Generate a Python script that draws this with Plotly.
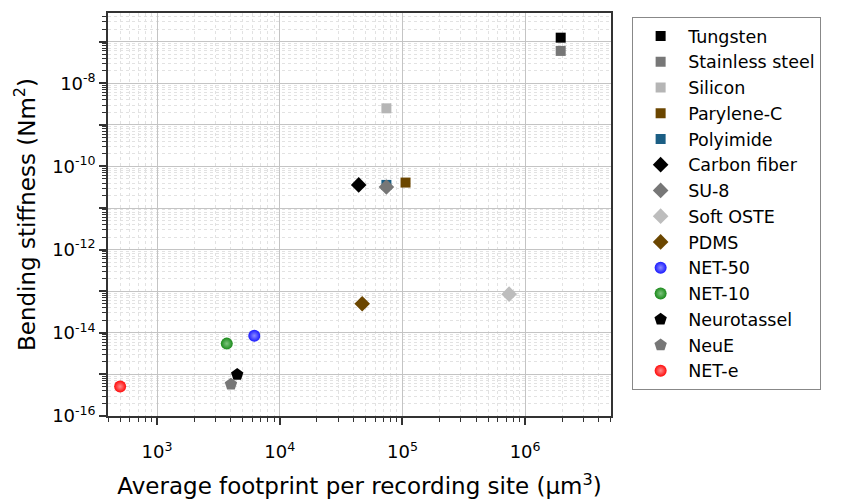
import plotly.graph_objects as go

names = ["Tungsten", "Stainless steel", "Silicon", "Parylene-C", "Polyimide",
         "Carbon fiber", "SU-8", "Soft OSTE", "PDMS", "NET-50", "NET-10",
         "Neurotassel", "NeuE", "NET-e"]
footprint = [1.95e6, 1.95e6, 7.4e4, 1.06e5, 7.4e4, 4.4e4, 7.4e4, 7.4e5, 4.7e4,
             6.2e3, 3.7e3, 4.5e3, 4.0e3, 5.0e2]
stiffness = [1.25e-7, 6.0e-8, 2.5e-9, 4.1e-11, 3.6e-11, 3.6e-11, 3.2e-11, 8.5e-14,
             5.0e-14, 8.5e-15, 5.5e-15, 1.0e-15, 5.8e-16, 5.1e-16]
colors = ["#000000", "#777777", "#b5b5b5", "#6b4600", "#1b5e84", "#000000",
          "#777777", "#bdbdbd", "#6b4600", "#1a1aff", "#1a8a1a", "#000000",
          "#777777", "#ff0a0a"]
highlight = {"NET-50": "#8c8cff", "NET-10": "#7fc47f", "NET-e": "#ff8c8c"}
symbols = ["square", "square", "square", "square", "square", "diamond", "diamond",
           "diamond", "diamond", "circle", "circle", "pentagon", "pentagon", "circle"]
sizes = [10, 10, 10, 10, 10, 12, 12, 12, 12, 12, 12, 13, 13, 12]

x_tick_vals = [1e3, 1e4, 1e5, 1e6]
x_tick_text = ["10<sup>3</sup>", "10<sup>4</sup>", "10<sup>5</sup>", "10<sup>6</sup>"]
y_tick_vals = [1e-16, 1e-15, 1e-14, 1e-13, 1e-12, 1e-11, 1e-10, 1e-9, 1e-8, 1e-7, 1e-6]
y_tick_text = ["10<sup>-16</sup>", "", "10<sup>-14</sup>", "", "10<sup>-12</sup>", "",
               "10<sup>-10</sup>", "", "10<sup>-8</sup>", "", ""]

fig = go.Figure()
for i in range(len(names)):
    marker = dict(color=colors[i], symbol=symbols[i], size=sizes[i],
                  line=dict(width=0))
    if names[i] in highlight:
        marker["gradient"] = dict(type="radial", color=highlight[names[i]])
    fig.add_trace(go.Scatter(
        x=[footprint[i]], y=[stiffness[i]], mode="markers", name=names[i],
        legendgroup=names[i], marker=marker,
    ))

minor_x = [m * 10 ** e for e in range(2, 7) for m in range(2, 10)]
minor_y = [m * 10 ** e for e in range(-16, -6) for m in range(2, 10)]

font_family = "DejaVu Sans, sans-serif"
axis_common = dict(
    type="log", showline=True, linecolor="#333333", linewidth=1.5, mirror=True,
    ticks="outside", ticklen=7, tickwidth=1.5, tickcolor="#333333",
    showgrid=True, gridcolor="#c4c4c4", gridwidth=1, zeroline=False,
    automargin=False,
    tickfont=dict(size=18, color="#000000", family=font_family),
)
minor_common = dict(tickmode="array", ticks="outside", ticklen=4, tickwidth=1,
                    tickcolor="#333333", showgrid=True, gridcolor="#e2e2e2",
                    griddash="dot", gridwidth=1)

fig.update_layout(
    width=846, height=500,
    margin=dict(l=108, r=235, t=13, b=84, autoexpand=False),
    paper_bgcolor="white", plot_bgcolor="white",
    font=dict(family=font_family, color="#000000"),
    showlegend=True,
    legend=dict(x=1.042, y=0.99, xanchor="left", yanchor="top",
                bordercolor="#888888", borderwidth=1, bgcolor="white",
                font=dict(size=17.5, family=font_family, color="#000000"),
                tracegroupgap=0.3, itemwidth=45, traceorder="normal"),
    xaxis=dict(**axis_common, range=[2.6, 6.7], tickmode="array",
               tickvals=x_tick_vals, ticktext=x_tick_text, ticklabelstandoff=12,
               minor=dict(**minor_common, tickvals=minor_x),
               title=dict(text="Average footprint per recording site (\u03bcm<sup>3</sup>)",
                          font=dict(size=23, family=font_family), standoff=17)),
    yaxis=dict(**axis_common, range=[-16, -6.31], tickmode="array",
               tickvals=y_tick_vals, ticktext=y_tick_text,
               minor=dict(**minor_common, tickvals=minor_y),
               title=dict(text="Bending stiffness (Nm<sup>2</sup>)",
                          font=dict(size=23, family=font_family), standoff=10)),
)

fig.write_html("out.html", config={"displayModeBar": False},
               post_script="document.body.style.margin='0';")
